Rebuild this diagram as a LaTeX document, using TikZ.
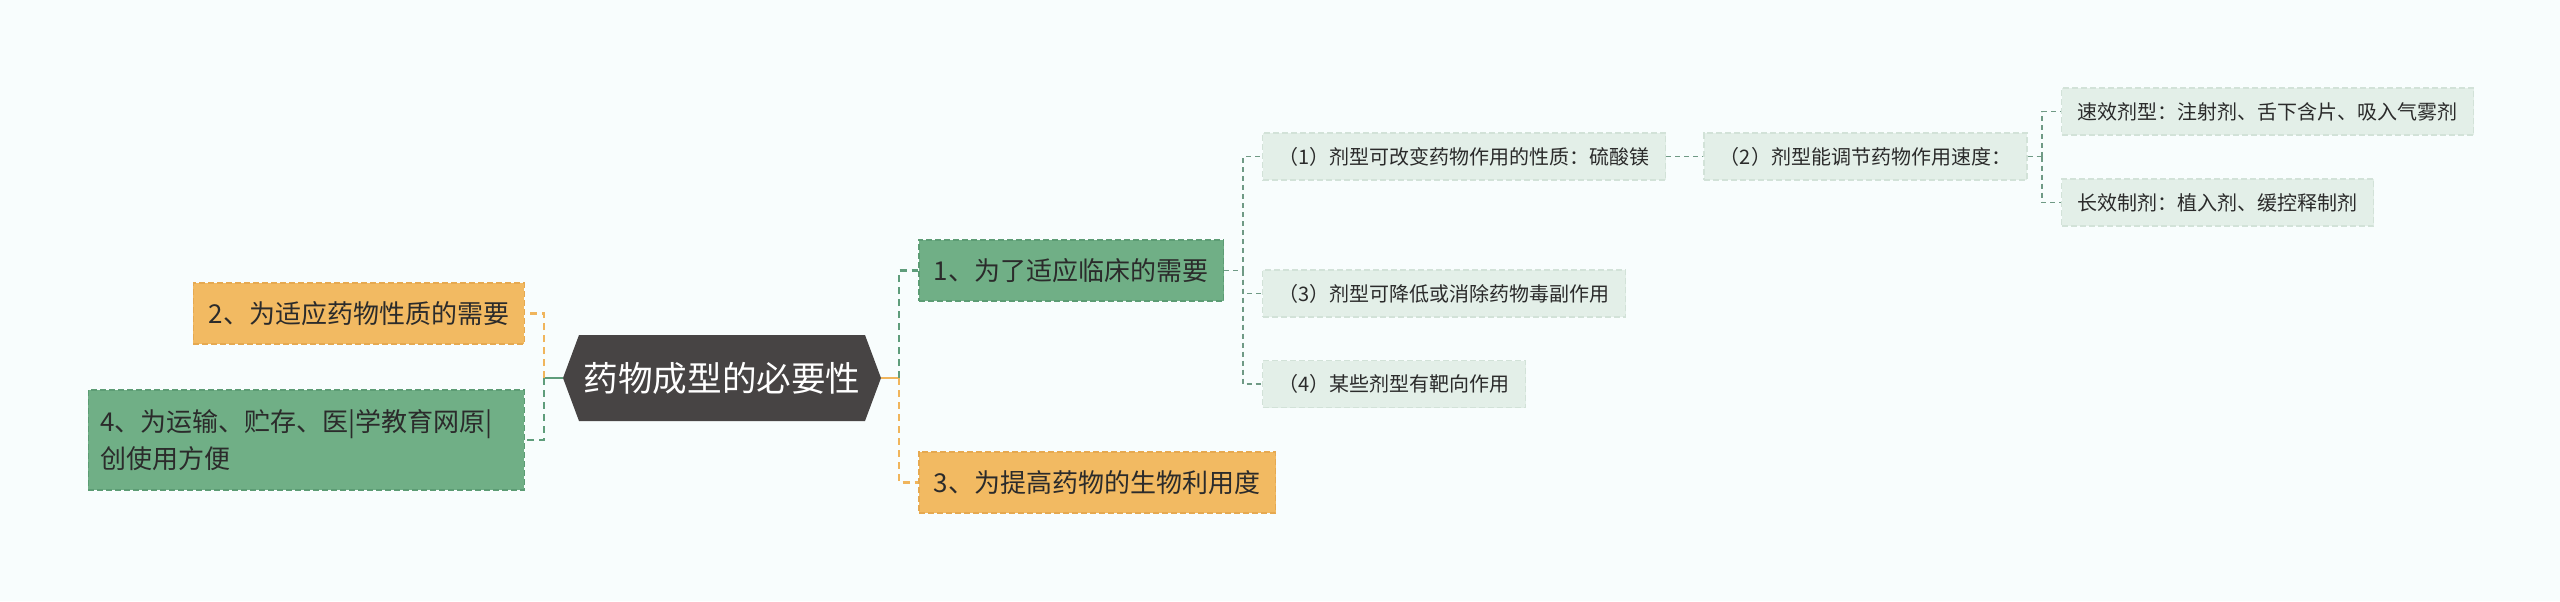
\documentclass[tikz,border=0pt]{standalone}
\usepackage{fontspec}
\setmainfont{Noto Sans CJK SC}
\usetikzlibrary{positioning}

\definecolor{bgmint}{HTML}{F8FDFD}
\definecolor{rootgray}{HTML}{474444}
\definecolor{orangefill}{HTML}{F2BA62}
\definecolor{orangeedge}{HTML}{E6A950}
\definecolor{greenfill}{HTML}{70AF86}
\definecolor{greenedge}{HTML}{5C9C74}
\definecolor{palefill}{HTML}{E3EFE8}
\definecolor{paleedge}{HTML}{D2E2D8}
\definecolor{linkgreen}{HTML}{5F9D7B}
\definecolor{linkorange}{HTML}{F0B55C}
\definecolor{linkgray}{HTML}{6F9A85}
\definecolor{inkdark}{HTML}{2B2B2B}

\begin{document}
\begin{tikzpicture}[x=0.5pt,y=-0.5pt,
  rootbox/.style={minimum width=159pt,minimum height=43pt,inner sep=0pt,text=white,
    font=\fontsize{17.3pt}{20pt}\selectfont,
    path picture={\fill[rootgray] (path picture bounding box.west)
      -- ([xshift=8pt]path picture bounding box.north west)
      -- ([xshift=-8pt]path picture bounding box.north east)
      -- (path picture bounding box.east)
      -- ([xshift=-8pt]path picture bounding box.south east)
      -- ([xshift=8pt]path picture bounding box.south west) -- cycle;}},
  topicbox/.style={draw,line width=0.75pt,dash pattern=on 3pt off 1.5pt,minimum height=30.5pt,
    inner xsep=7.6pt,inner ysep=0pt,text=inkdark,font=\fontsize{13pt}{18.5pt}\selectfont},
  orangebox/.style={topicbox,fill=orangefill,draw=orangeedge},
  greenbox/.style={topicbox,fill=greenfill,draw=greenedge},
  leafbox/.style={draw=paleedge,fill=palefill,line width=0.6pt,dash pattern=on 3pt off 1.5pt,
    minimum height=23.5pt,inner xsep=8pt,inner ysep=0pt,text=inkdark,
    font=\fontsize{10pt}{12pt}\selectfont,anchor=west},
  mainlink/.style={line width=1.4pt},
  dashlink/.style={line width=1.4pt,dash pattern=on 3.5pt off 2.5pt},
  leaflink/.style={draw=linkgray,line width=0.75pt,dash pattern=on 2.5pt off 2pt}]

\fill[bgmint] (0,0) rectangle (2560,601);

% centre and first level
\node[rootbox] (root) at (722,378) {药物成型的必要性};
\node[orangebox,anchor=east] (n2) at (525,313.5) {2、为适应药物性质的需要};
\node[greenbox,anchor=east,text width=206pt,align=left,minimum height=50pt,inner xsep=6pt] (n4) at (525,440) {4、为运输、贮存、医|学教育网原|\\创使用方便};
\node[greenbox,anchor=west] (n1) at (918,270.5) {1、为了适应临床的需要};
\node[orangebox,anchor=west] (n3) at (918,482.5) {3、为提高药物的生物利用度};

% second level
\node[leafbox] (p1) at (1262,156.5) {（1）剂型可改变药物作用的性质：硫酸镁};
\node[leafbox,right=18.5pt of p1] (p2) {（2）剂型能调节药物作用速度：};
\node[leafbox] (p3) at (1262,293.5) {（3）剂型可降低或消除药物毒副作用};
\node[leafbox] (p4) at (1262,384) {（4）某些剂型有靶向作用};
\node[leafbox] (q1) at (2061,111.5) {速效剂型：注射剂、舌下含片、吸入气雾剂};
\node[leafbox] (q2) at (2061,202.5) {长效制剂：植入剂、缓控释制剂};

\coordinate (ljoin) at (544,378);
\coordinate (rjoin) at (899,378);
\coordinate (ajoin) at (1243,270.5);
\coordinate (bjoin) at (2042,156.5);

% connectors
\draw[mainlink,linkgreen] (root.west) -- (ljoin);
\draw[dashlink,linkorange] (ljoin) |- (n2.east);
\draw[dashlink,linkgreen] (ljoin) |- (n4.east);
\draw[mainlink,linkorange] (root.east) -- (rjoin);
\draw[dashlink,linkgreen] (rjoin) |- (n1.west);
\draw[dashlink,linkorange] (rjoin) |- (n3.west);
\draw[leaflink] (n1.east) -- (ajoin);
\draw[leaflink] (ajoin) |- (p1.west);
\draw[leaflink] (ajoin) |- (p3.west);
\draw[leaflink] (ajoin) |- (p4.west);
\draw[leaflink] (p1.east) -- (p2.west);
\draw[leaflink] (p2.east) -- (bjoin);
\draw[leaflink] (bjoin) |- (q1.west);
\draw[leaflink] (bjoin) |- (q2.west);
\end{tikzpicture}
\end{document}
